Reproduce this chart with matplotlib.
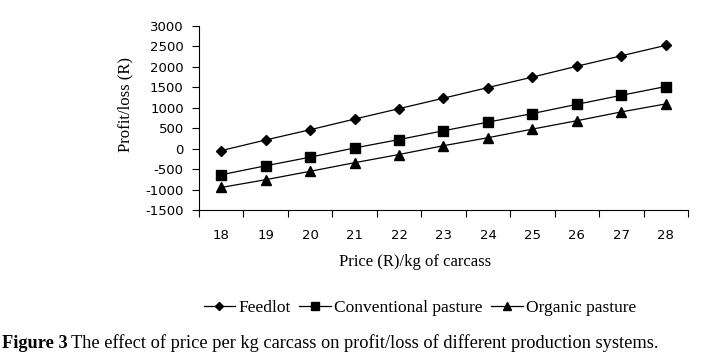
import numpy as np
import matplotlib.pyplot as plt

price = [18, 19, 20, 21, 22, 23, 24, 25, 26, 27, 28]
feedlot = [-50, 210, 460, 720, 975, 1230, 1490, 1745, 2010, 2265, 2520]
conventional = [-640, -420, -210, 15, 220, 435, 645, 855, 1080, 1300, 1515]
organic = [-950, -760, -555, -345, -145, 70, 265, 475, 680, 895, 1090]

plt.rcParams['font.family'] = ['Liberation Serif', 'DejaVu Serif']
plt.rcParams['axes.unicode_minus'] = False

W, H = 710, 353
fig = plt.figure(figsize=(7.1, 3.53), dpi=100)
ax = fig.add_axes([199/W, 1-210/H, (688-199)/W, (210-25.7)/H])

ax.plot(price, feedlot, 'k-', marker='D', ms=5, lw=0.9, label='Feedlot')
ax.plot(price, conventional, 'k-', marker='s', ms=7, lw=0.9, label='Conventional pasture')
ax.plot(price, organic, 'k-', marker='^', ms=7, lw=0.9, label='Organic pasture')

ax.set_xlim(17.5, 28.5)
ax.set_ylim(-1500, 3000)
ax.set_yticks(np.arange(-1500, 3001, 500))
ax.set_xticks(np.arange(17.5, 28.6, 1.0))
ax.set_xticklabels([])
ax.set_xticks(price, minor=True)
ax.set_xticklabels([str(p) for p in price], minor=True)
for lab in ax.get_xticklabels(minor=True) + ax.get_yticklabels():
    lab.set_family('DejaVu Sans')
ax.tick_params(axis='x', which='minor', length=0, pad=14, labelsize=9.5)
ax.tick_params(axis='x', which='major', length=5, direction='out', width=0.8)
ax.tick_params(axis='y', length=5, direction='out', labelsize=9.5, width=0.8, pad=6)

for s in ['top', 'right']:
    ax.spines[s].set_visible(False)

fig.text(125/W, 1-104/H, 'Profit/loss (R)', fontsize=12, rotation=90, ha='center', va='center')
fig.text(415/W, 1-262/H, 'Price (R)/kg of carcass', fontsize=12, ha='center', va='center')

fig.legend(loc='center', bbox_to_anchor=(420/W, 1-308/H), ncol=3, frameon=False,
           fontsize=12.5, handlelength=1.8, handletextpad=0.2, columnspacing=0.5,
           markerscale=0.8)

fig.text(2/W, 1-343/H, 'Figure 3', fontsize=13.2, fontweight='bold', va='center')
fig.text(71/W, 1-343/H, 'The effect of price per kg carcass on profit/loss of different production systems.',
         fontsize=13.2, va='center')

plt.savefig('out.png', dpi=100)
